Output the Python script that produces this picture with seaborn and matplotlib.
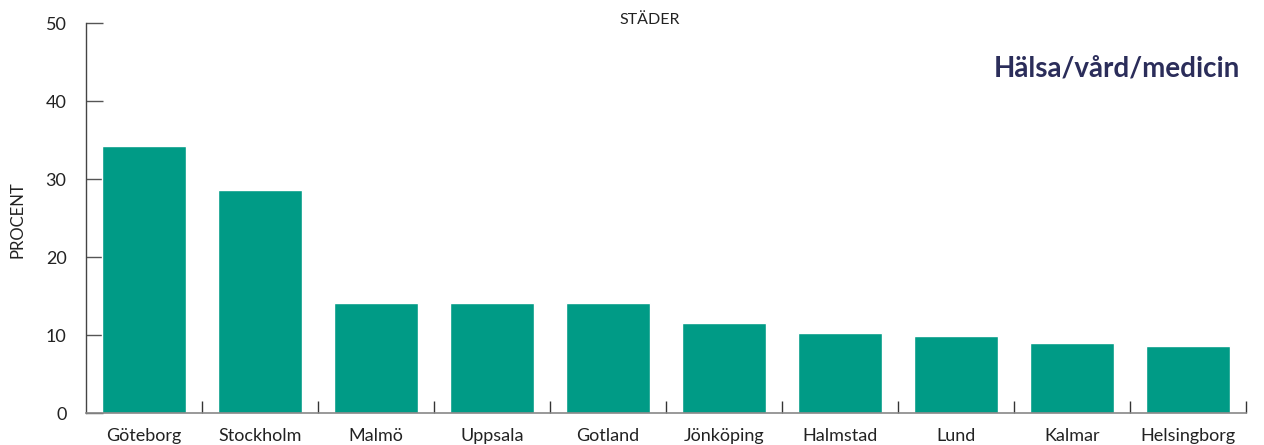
import matplotlib
matplotlib.use("Agg")
import matplotlib.pyplot as plt
import seaborn as sns
import numpy as np
import pandas as pd

categories = ["Göteborg", "Stockholm", "Malmö", "Uppsala", "Gotland",
              "Jönköping", "Halmstad", "Lund", "Kalmar", "Helsingborg"]
values = [34.2, 28.6, 14.1, 14.1, 14.1, 11.5, 10.3, 9.9, 9.0, 8.6]
y_ticks = [0, 10, 20, 30, 40, 50]
title = "Hälsa/vård/medicin"
x_title = "STÄDER"
y_title = "PROCENT"

sns.set_theme(style="white")
plt.rcParams['font.family'] = ['Lato', 'DejaVu Sans']

df = pd.DataFrame({"city": categories, "value": values})

fig = plt.figure(figsize=(12.64, 4.45), dpi=100)
ax = fig.add_axes([86/1264, 1-413/445, (1246-86)/1264, (413-23)/445])
sns.barplot(data=df, x="city", y="value", color="#009B86", saturation=1,
            width=0.72, ax=ax)

ax.set_xlim(-0.5, len(categories) - 0.5)
ax.set_ylim(0, 50)
ax.set_yticks(y_ticks)
ax.set_yticklabels([str(t) for t in y_ticks], fontsize=13, color="#222222")
ax.set_xticks(range(len(categories)))
ax.set_xticklabels(categories, fontsize=13, color="#222222")
ax.set_xticks(np.arange(0.5, len(categories), 1.0), minor=True)
ax.tick_params(axis="x", which="major", length=0, pad=11, bottom=True)
ax.tick_params(axis="x", which="minor", length=9, direction="in", width=1,
               color="#333333", bottom=True)
ax.tick_params(axis="y", which="major", length=12, direction="in", width=1,
               color="#555555", pad=14, left=True)

ax.set_xlabel("")
ax.set_ylabel("")
for s in ["top", "right"]:
    ax.spines[s].set_visible(False)
ax.spines["left"].set_color("#444444")
ax.spines["left"].set_linewidth(1)
ax.spines["bottom"].set_color("#888888")
ax.spines["bottom"].set_linewidth(1.2)

fig.text(650/1264, 1-20/445, x_title, ha="center", va="center", fontsize=11.5, color="#222222")
fig.text(17/1264, 1-220/445, y_title, ha="center", va="center", rotation=90, fontsize=12, color="#222222")
fig.text(1240/1264, 1-68/445, title, ha="right", va="center", fontsize=20, fontweight="bold", color="#2B2D5A")

fig.savefig("out.png", dpi=100)
